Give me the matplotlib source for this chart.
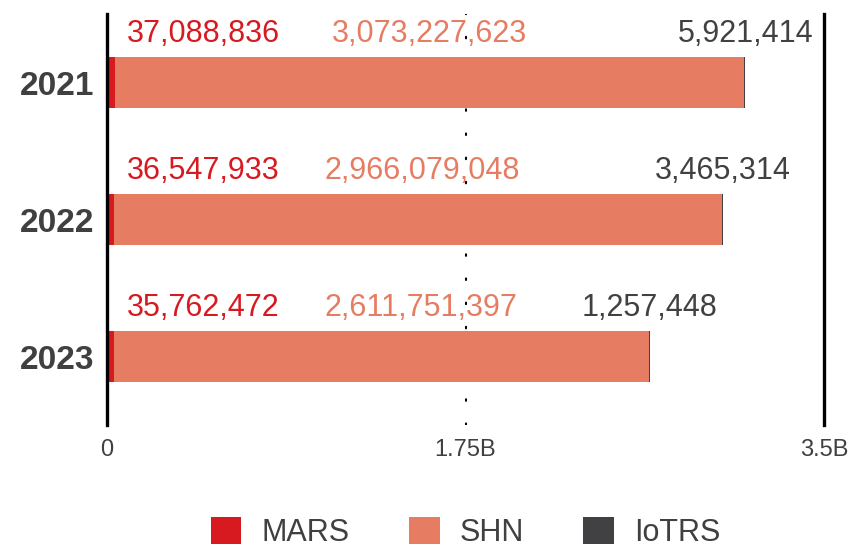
import matplotlib
matplotlib.use("Agg")
import matplotlib.pyplot as plt
from matplotlib.patches import Patch
from matplotlib import font_manager

plt.rcParams['font.family'] = ['Liberation Sans', 'DejaVu Sans']

years = ["2021", "2022", "2023"]
mars = [37088836, 36547933, 35762472]
shn = [3073227623, 2966079048, 2611751397]
iotrs = [5921414, 3465314, 1257448]
series_names = ["MARS", "SHN", "IoTRS"]
xticks = [0, 1.75e9, 3.5e9]
xtick_labels = ["0", "1.75B", "3.5B"]

c_mars = "#D71920"
c_shn = "#E67C62"
c_iot = "#414042"
c_text = "#404040"

names = {f.name for f in font_manager.fontManager.ttflist}
tick_family = ['Liberation Sans Narrow', 'Liberation Sans'] if 'Liberation Sans Narrow' in names else ['Liberation Sans']

fig = plt.figure(figsize=(8.51, 5.48), dpi=100)
ax = fig.add_axes([107/851, 1-425/548, 717/851, 411/548])

ypos = list(range(len(years)))
h = 0.365
left_shn = mars
left_iot = [m + s for m, s in zip(mars, shn)]
totals = [m + s + i for m, s, i in zip(mars, shn, iotrs)]

ax.barh(ypos, mars, height=h, color=c_mars, zorder=3)
ax.barh(ypos, shn, left=left_shn, height=h, color=c_shn, zorder=3)
ax.barh(ypos, iotrs, left=left_iot, height=h, color=c_iot, zorder=3)

ax.set_xlim(0, 3.5e9)
ax.set_ylim(2.5, -0.5)

# dotted middle line
ax.plot([xticks[1], xticks[1]], [2.5, -0.5], color="black", lw=1.5,
        dashes=(0.75, 10.85), dash_capstyle="round", zorder=1)

for s in ["top", "bottom"]:
    ax.spines[s].set_visible(False)
for s in ["left", "right"]:
    ax.spines[s].set_linewidth(2.4)
    ax.spines[s].set_color("black")
ax.spines["left"].set_zorder(5)

ax.set_xticks(xticks)
ax.set_xticklabels(xtick_labels, fontsize=17, color=c_text, family=tick_family)
ax.tick_params(axis="x", length=0, pad=10)
ax.set_yticks(ypos)
ax.set_yticklabels(years, fontsize=24, fontweight="bold", color=c_text)
ax.tick_params(axis="y", length=0, pad=9)

fs = 22
base_off = 15 * 0.72
mars_texts = []
shn_texts = []
for i in ypos:
    top = i - h / 2
    t1 = ax.annotate(f"{mars[i]:,}", xy=(0, top), xytext=(14, base_off),
                     textcoords="offset points", ha="left", va="baseline",
                     fontsize=fs, color=c_mars, zorder=6)
    mid = mars[i] + shn[i] / 2
    t2 = ax.annotate(f"{shn[i]:,}", xy=(mid, top), xytext=(0, base_off),
                     textcoords="offset points", ha="center", va="baseline",
                     fontsize=fs, color=c_shn, zorder=6)
    ax.annotate(f"{iotrs[i]:,}", xy=(totals[i], top), xytext=(0, base_off),
                textcoords="offset points", ha="center", va="baseline",
                fontsize=fs, color=c_iot, zorder=6)
    mars_texts.append(t1)
    shn_texts.append(t2)

# push SHN labels right if they crowd MARS labels
fig.canvas.draw()
r = fig.canvas.get_renderer()
for t1, t2 in zip(mars_texts, shn_texts):
    e1 = t1.get_window_extent(r)
    e2 = t2.get_window_extent(r)
    gap = 45
    if e2.x0 < e1.x1 + gap:
        shift = (e1.x1 + gap - e2.x0) * 0.72
        x, y = t2.xyann
        t2.xyann = (x + shift, y)

handles = [Patch(facecolor=c, edgecolor="none") for c in (c_mars, c_shn, c_iot)]
leg = fig.legend(handles, series_names, loc="lower center", ncol=3,
                 bbox_to_anchor=((107 + 717/2) / 851, 0.0), frameon=False, fontsize=22,
                 handlelength=1.0, handleheight=1.0, handletextpad=0.65,
                 columnspacing=1.95, labelcolor=c_text, borderpad=0.0,
                 borderaxespad=0.0)

fig.savefig("out.png", dpi=100)
